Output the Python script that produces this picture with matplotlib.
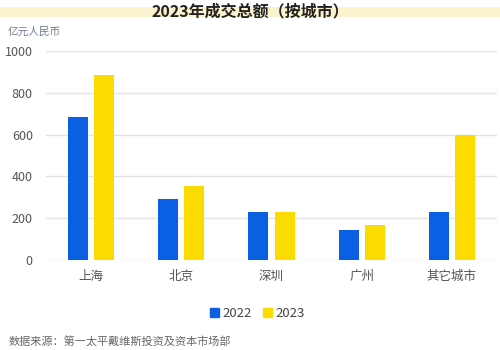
import matplotlib
matplotlib.use("Agg")
import matplotlib.pyplot as plt
import matplotlib.patches as mpatches
import numpy as np

plt.rcParams['font.family'] = ['Noto Sans CJK SC', 'DejaVu Sans']

# 成交总额（亿元人民币）
cities = ['上海', '北京', '深圳', '广州', '其它城市']
vol_2022 = [683, 291, 228, 142, 228]
vol_2023 = [885, 354, 228, 168, 599]
series_names = ['2022', '2023']
yticks = [0, 200, 400, 600, 800, 1000]

blue = '#0b5fe3'
yellow = '#fbdb00'
grey_text = '#555555'

fig = plt.figure(figsize=(5, 3.5), dpi=100, facecolor='white')
ax = fig.add_axes([0.092, 0.257, 0.902, 0.597])

x = np.arange(len(cities))
w = 0.22
off = 0.145
ax.bar(x - off, vol_2022, width=w, color=blue, zorder=3)
ax.bar(x + off, vol_2023, width=w, color=yellow, zorder=3)

ax.set_xlim(-0.5, len(cities) - 0.5)
ax.set_ylim(0, 1000)
ax.set_yticks(yticks)
ax.set_yticklabels([str(t) for t in yticks], fontsize=9, color=grey_text)
ax.set_xticks(x)
ax.set_xticklabels(cities, fontsize=9, color=grey_text)
ax.tick_params(axis='both', length=0)
ax.tick_params(axis='y', pad=9.5)
ax.tick_params(axis='x', pad=7)
ax.grid(axis='y', color='#e3e3e3', linewidth=1, zorder=0)
for s in ax.spines.values():
    s.set_visible(False)

# title with pale band behind it
fig.patches.append(mpatches.Rectangle((0, 0.952), 1, 0.028, transform=fig.transFigure,
                                      facecolor='#fbf3cd', edgecolor='none', zorder=0))
fig.text(0.5, 0.966, '2023年成交总额（按城市）', ha='center', va='center',
         fontsize=11.5, color='#222222', fontweight='semibold')
fig.text(0.015, 0.908, '亿元人民币', ha='left', va='center', fontsize=7.7, color='#6f7c99')

handles = [mpatches.Patch(color=blue, label=series_names[0]),
           mpatches.Patch(color=yellow, label=series_names[1])]
fig.legend(handles=handles, loc='center', bbox_to_anchor=(0.515, 0.105), ncol=2,
           frameon=False, fontsize=9.5, handlelength=0.7, handleheight=0.7,
           handletextpad=0.3, columnspacing=0.8, labelcolor='#444444')

fig.text(0.018, 0.023, '数据来源：第一太平戴维斯投资及资本市场部', ha='left', va='center',
         fontsize=8, color='#666666')

fig.savefig('out.png', dpi=100)
